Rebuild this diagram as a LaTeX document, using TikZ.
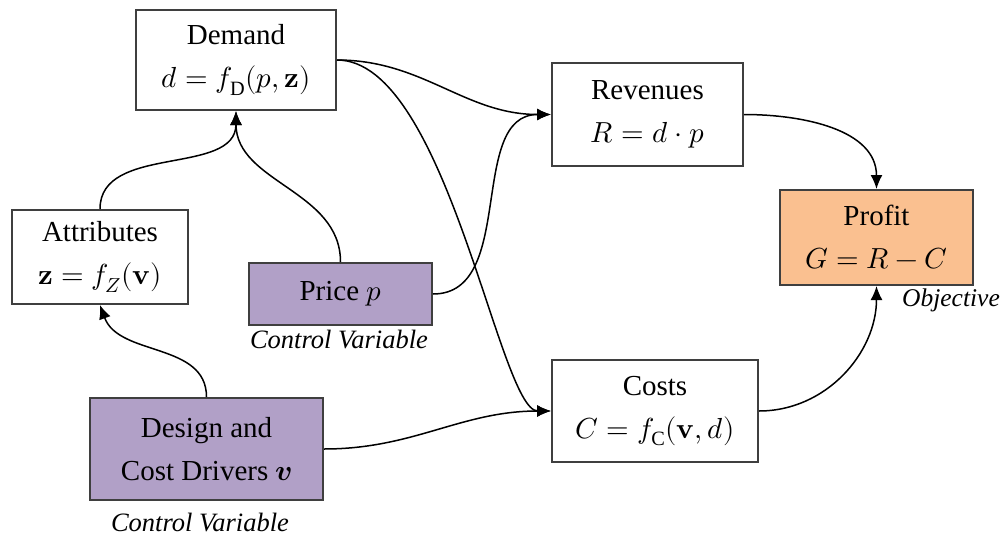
\documentclass[tikz,border=0pt]{standalone}
\usepackage{fontspec}
\usepackage{unicode-math}
\setmainfont{Liberation Serif}
\usetikzlibrary{arrows.meta}
\definecolor{lav}{HTML}{B1A0C7}
\definecolor{org}{HTML}{FAC090}
\definecolor{edgegray}{HTML}{3F3F3F}
\begin{document}
\begin{tikzpicture}[x=1pt,y=-1pt,
 box/.style={draw=edgegray,line width=2pt,fill=white,align=center,inner sep=0pt,font=\fontsize{29}{43}\selectfont},
 arr/.style={line width=1.5pt,-{Latex[length=14pt,width=12pt]}},
 note/.style={font=\fontsize{26.5}{30}\selectfont\itshape}]
\useasboundingbox (0,0) rectangle (1006,538);
\node[box,minimum width=200pt,minimum height=100pt] (dem) at (236,60) {Demand\\$d = f_{\mathrm{D}}(p,\symbf{z})$};
\node[box,minimum width=191pt,minimum height=103pt] (rev) at (647.5,114.5) {Revenues\\$R = d\cdot p$};
\node[box,fill=org,minimum width=193pt,minimum height=95pt] (prof) at (876.5,237.5) {Profit\\$G = R - C$};
\node[box,minimum width=176pt,minimum height=94pt] (attr) at (100,257) {Attributes\\$\symbf{z} = f_{Z}(\symbf{v})$};
\node[box,fill=lav,minimum width=183pt,minimum height=62pt] (price) at (340.5,294) {Price $p$};
\node[box,fill=lav,minimum width=233pt,minimum height=102pt] (des) at (206.5,449) {Design and\\Cost Drivers $\symbfit{v}$};
\node[box,minimum width=206pt,minimum height=102pt] (cost) at (655,411) {Costs\\$C = f_{\mathrm{C}}(\symbf{v},d)$};
\node[note] (cv1) at (339,340) {Control Variable};
\node[note] (cv2) at (200,522) {Control Variable};
\node[note,font=\fontsize{25.5}{30}\selectfont\itshape] (obj) at (951,300) {Objective};
\draw[arr] (attr.north) to[out=90,in=-90] (dem.south);
\draw[arr] (price.north) to[out=90,in=-90] (dem.south);
\draw[arr] (dem.east) to[out=0,in=180] (rev.west);
\draw[arr] (dem.east) .. controls +(110,0) and +(-52,0) .. (cost.west);
\draw[arr] (price.east) to[out=0,in=180] (rev.west);
\draw[arr] (rev.east) to[out=0,in=90] (prof.north);
\draw[arr] (cost.east) to[out=0,in=-90] (prof.south);
\draw[arr] (des.north) to[out=90,in=-70] (attr.south);
\draw[arr] (des.east) to[out=0,in=180] (cost.west);
\end{tikzpicture}
\end{document}
